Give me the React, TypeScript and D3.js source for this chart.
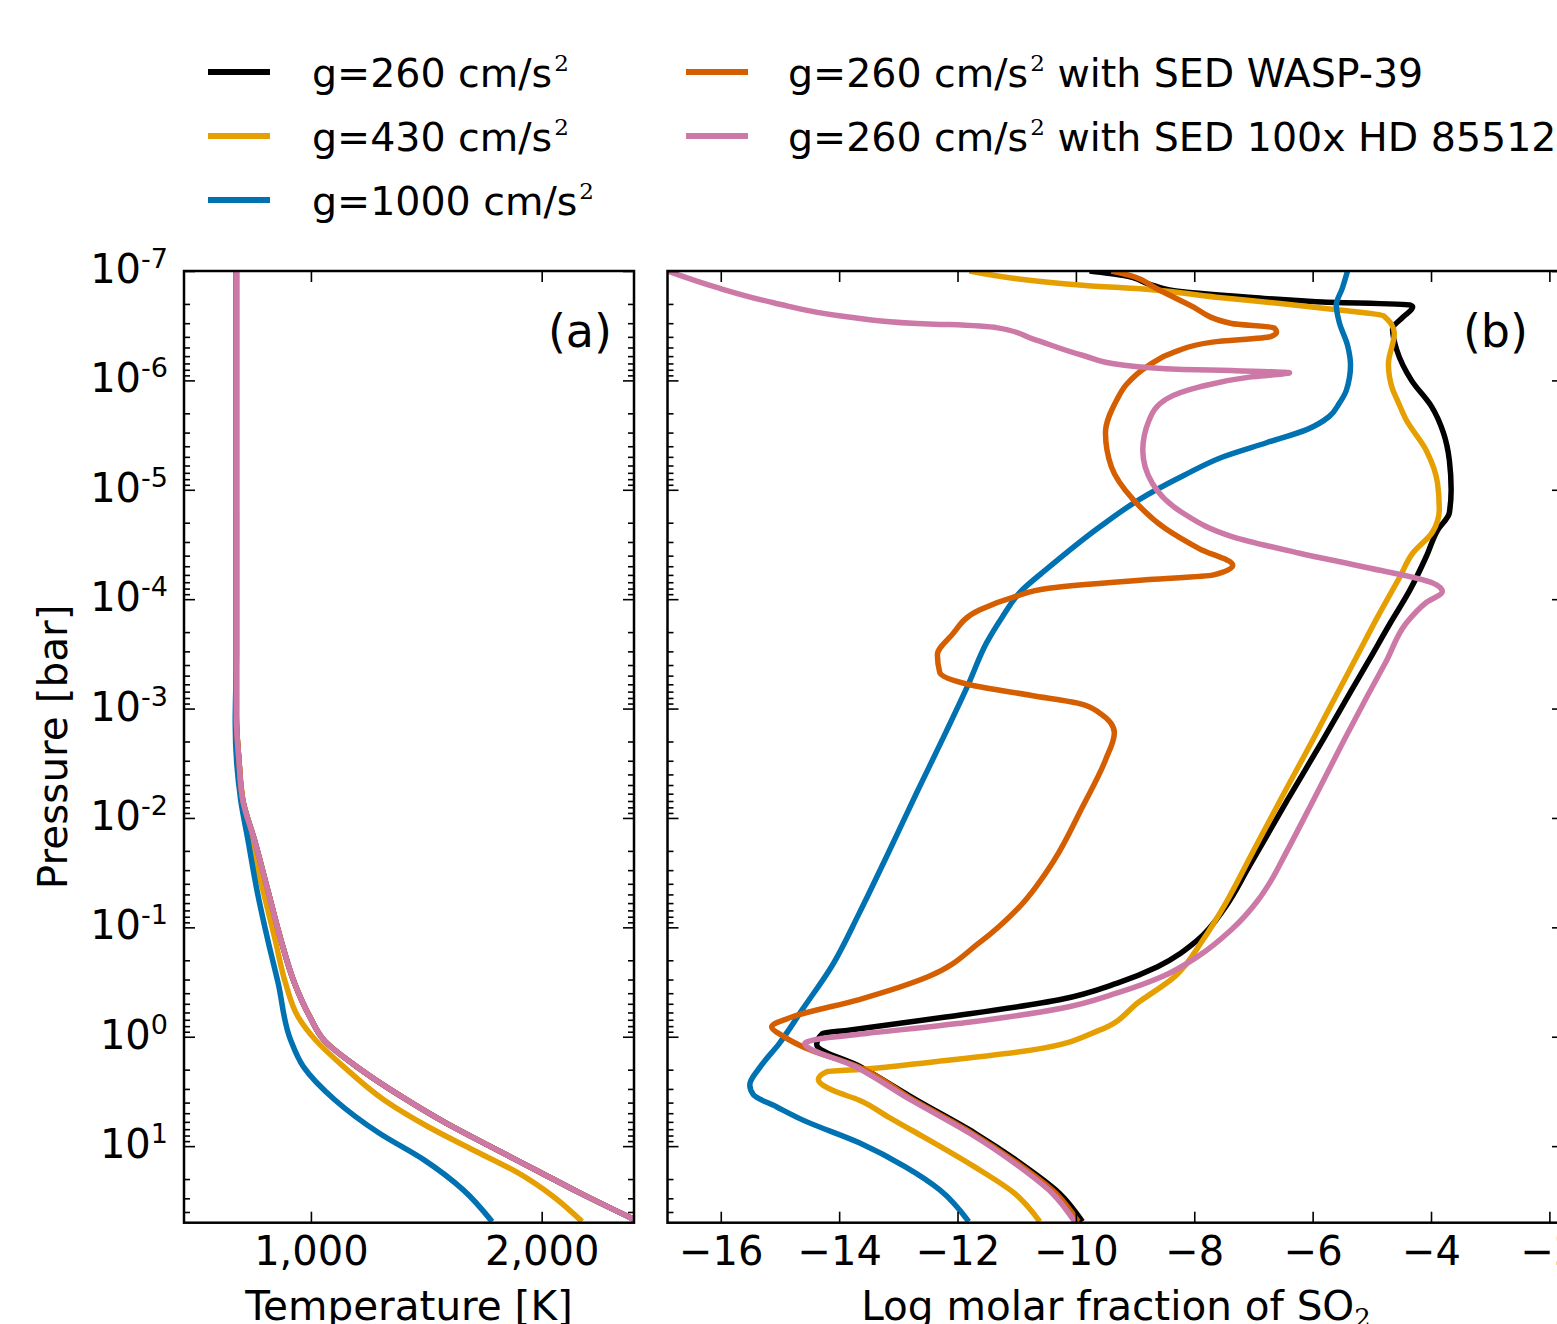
import { useEffect, useRef } from "react";
import * as d3 from "d3";

// panel (a): temperature profiles, log10(P / bar) and T [K]
const tpLogP260 = [-7.0, -2.92, -2.53, -2.16, -1.8, -1.34, -0.885, -0.49, -0.18, 0.03, 0.276, 0.55, 0.79, 1.007, 1.22, 1.43, 1.67];
const tpTemp260 = [677, 677, 688, 705, 755, 813, 870, 929, 996, 1056, 1200, 1395, 1586, 1781, 1976, 2167, 2400];
const tpLogP430 = [-7.0, -2.92, -2.53, -2.16, -1.8, -1.34, -0.885, -0.49, -0.18, 0.03, 0.276, 0.578, 0.825, 1.035, 1.245, 1.46, 1.69];
const tpTemp430 = [677, 677, 688, 705, 735, 792, 845, 890, 945, 1020, 1143, 1317, 1510, 1703, 1898, 2050, 2175];
const tpLogP1000 = [-7.0, -3.5, -2.87, -2.16, -1.8, -1.34, -0.885, -0.49, 0.03, 0.276, 0.578, 0.88, 1.126, 1.4, 1.69];
const tpTemp1000 = [677, 677, 672, 696, 727, 766, 813, 858, 912, 968, 1104, 1295, 1490, 1660, 1785];

// panel (b): log10 SO2 molar fraction against log10(P / bar)
const so2_260 = [-9.77, -9.21, -8.71, -8.2, -7.07, -5.94, -4.36, -4.31, -4.47, -4.65, -4.58, -4.33, -3.99, -3.79, -3.69, -3.66, -3.69, -3.89, -4.08, -4.36, -4.69, -5.05, -5.34, -5.83, -6.43, -7.08, -7.47, -7.95, -8.62, -9.3, -10.26, -12.2, -13.84, -14.28, -14.38, -13.66, -12.69, -11.71, -10.85, -10.28, -9.89];
const so2LogP260 = [-7.0, -6.96, -6.87, -6.81, -6.76, -6.72, -6.69, -6.67, -6.58, -6.47, -6.28, -6.0, -5.76, -5.52, -5.27, -5.0, -4.79, -4.63, -4.39, -4.08, -3.78, -3.44, -3.17, -2.71, -2.16, -1.55, -1.19, -0.88, -0.64, -0.49, -0.34, -0.18, -0.06, -0.03, 0.07, 0.27, 0.58, 0.88, 1.19, 1.43, 1.69];

const so2_430 = [-11.8, -11.0, -9.89, -8.76, -7.63, -6.51, -5.67, -4.8, -4.62, -4.72, -4.65, -4.57, -4.42, -4.08, -3.89, -3.86, -3.98, -4.31, -4.53, -4.9, -5.25, -5.64, -6.0, -6.48, -7.02, -7.47, -7.86, -8.33, -8.93, -9.6, -10.73, -12.42, -13.66, -14.21, -14.35, -14.11, -13.66, -13.15, -12.69, -11.71, -11.04, -10.61];
const so2LogP430 = [-7.0, -6.93, -6.87, -6.83, -6.76, -6.7, -6.65, -6.59, -6.43, -6.15, -5.92, -5.82, -5.64, -5.36, -5.06, -4.82, -4.61, -4.42, -4.2, -3.84, -3.48, -3.08, -2.71, -2.23, -1.68, -1.22, -0.88, -0.55, -0.32, -0.06, 0.12, 0.23, 0.3, 0.32, 0.39, 0.49, 0.58, 0.74, 0.88, 1.19, 1.43, 1.69];

const so2_1000 = [-5.41, -5.5, -5.6, -5.55, -5.41, -5.36, -5.43, -5.55, -5.72, -6.1, -6.78, -7.52, -8.18, -8.93, -9.6, -10.46, -10.95, -11.24, -11.51, -11.81, -12.2, -12.69, -13.17, -13.66, -14.13, -14.62, -15.01, -15.34, -15.51, -15.45, -15.06, -14.62, -13.66, -12.88, -12.3, -11.81];
const so2LogP1000 = [-7.0, -6.84, -6.69, -6.53, -6.32, -6.14, -5.91, -5.79, -5.67, -5.55, -5.43, -5.3, -5.13, -4.91, -4.66, -4.29, -4.06, -3.84, -3.6, -3.23, -2.78, -2.23, -1.68, -1.13, -0.64, -0.25, 0.06, 0.28, 0.44, 0.53, 0.64, 0.76, 0.97, 1.19, 1.4, 1.69];

const so2Wasp = [-9.4, -9.09, -8.64, -8.08, -7.37, -6.65, -6.61, -6.71, -7.69, -8.33, -8.76, -9.15, -9.31, -9.5, -9.4, -9.03, -8.5, -7.91, -7.35, -7.69, -8.76, -10.46, -11.04, -11.63, -12.1, -12.34, -12.3, -11.81, -10.75, -9.97, -9.6, -9.35, -9.5, -9.89, -10.36, -10.95, -11.63, -12.49, -13.66, -14.8, -15.14, -14.96, -14.58, -13.7, -12.74, -11.76, -10.9, -10.34, -9.96];
const so2LogPWasp = [-7.0, -6.96, -6.84, -6.69, -6.52, -6.48, -6.44, -6.4, -6.35, -6.26, -6.14, -5.96, -5.82, -5.52, -5.21, -4.91, -4.65, -4.46, -4.31, -4.22, -4.18, -4.1, -4.02, -3.9, -3.67, -3.49, -3.33, -3.22, -3.12, -3.05, -2.96, -2.78, -2.53, -2.1, -1.62, -1.19, -0.86, -0.55, -0.34, -0.18, -0.09, -0.01, 0.1, 0.27, 0.58, 0.88, 1.19, 1.43, 1.69];

const so2Hd = [-16.9, -16.07, -15.11, -13.84, -12.69, -12.14, -11.32, -10.73, -9.89, -9.21, -8.2, -7.37, -6.39, -7.07, -7.91, -8.47, -8.76, -8.87, -8.71, -8.2, -7.35, -6.22, -5.09, -3.98, -3.81, -4.08, -4.42, -4.75, -5.08, -5.47, -5.99, -6.49, -6.7, -6.92, -7.37, -7.95, -8.54, -9.3, -10.24, -11.85, -13.54, -14.21, -14.58, -13.74, -12.78, -11.8, -10.95, -10.4, -10.02];
const so2LogPHd = [-7.0, -6.85, -6.71, -6.58, -6.52, -6.51, -6.48, -6.38, -6.23, -6.14, -6.1, -6.09, -6.07, -6.03, -5.94, -5.83, -5.64, -5.36, -5.06, -4.79, -4.57, -4.42, -4.29, -4.15, -4.07, -3.97, -3.78, -3.44, -3.11, -2.71, -2.16, -1.64, -1.43, -1.25, -0.98, -0.73, -0.55, -0.4, -0.26, -0.13, -0.03, 0.01, 0.06, 0.27, 0.58, 0.88, 1.19, 1.43, 1.69];

const tempTicks = [1000, 2000];
const so2Ticks = [-16, -14, -12, -10, -8, -6, -4, -2];
const pressureExps = [-7, -6, -5, -4, -3, -2, -1, 0, 1];

const BLACK = "#000000";
const YELLOW = "#E69F00";
const BLUE = "#0072B2";
const VERMILION = "#D55E00";
const PINK = "#CC79A7";

const legendRows = [
  { color: BLACK, pre: "g=260 cm/s", post: "", col: 0, row: 0 },
  { color: YELLOW, pre: "g=430 cm/s", post: "", col: 0, row: 1 },
  { color: BLUE, pre: "g=1000 cm/s", post: "", col: 0, row: 2 },
  { color: VERMILION, pre: "g=260 cm/s", post: " with SED WASP-39", col: 1, row: 0 },
  { color: PINK, pre: "g=260 cm/s", post: " with SED 100x HD 85512", col: 1, row: 1 },
];

const zip = (a: number[], b: number[]) => a.map((v, i) => [v, b[i]] as [number, number]);

const App = () => {
  const ref = useRef<SVGSVGElement>(null);

  useEffect(() => {
    const svg = d3.select(ref.current);
    svg.selectAll("*").remove();
    const font = "DejaVu Sans";
    const yTop = 271, yBot = 1222.7;

    const y = d3.scaleLog().domain([1e-7, Math.pow(10, 1.7)]).range([yTop, yBot]);
    const xT = d3.scaleLinear().domain([450, 2400]).range([184, 634]);
    const xS = d3.scaleLinear().domain([-16.9, -1.77]).range([667.5, 1563]);

    const majorP = pressureExps.map((e) => Math.pow(10, e));
    const minorP: number[] = [];
    pressureExps.forEach((e) => {
      for (let k = 2; k < 10; k++) {
        const p = k * Math.pow(10, e);
        if (p < 50) minorP.push(p);
      }
    });

    const lineGroup = (x: any, id: string) => {
      const [x0, x1] = x.range();
      svg.append("clipPath").attr("id", id).append("rect")
        .attr("x", x0).attr("y", yTop).attr("width", x1 - x0).attr("height", yBot - yTop);
      return svg.append("g").attr("clip-path", `url(#${id})`);
    };

    const drawLines = (g: any, x: any, list: { data: [number, number][]; color: string }[]) => {
      const line = d3.line<[number, number]>()
        .x((d) => x(d[0]))
        .y((d) => y(Math.pow(10, d[1])))
        .curve(d3.curveMonotoneY);
      list.forEach((s) => {
        g.append("path").attr("d", line(s.data)).attr("fill", "none")
          .attr("stroke", s.color).attr("stroke-width", 5.5).attr("stroke-linejoin", "round");
      });
    };

    // panel (a)
    const gA = lineGroup(xT, "clipA");
    drawLines(gA, xT, [
      { data: zip(tpTemp260, tpLogP260), color: BLACK },
      { data: zip(tpTemp430, tpLogP430), color: YELLOW },
      { data: zip(tpTemp1000, tpLogP1000), color: BLUE },
      { data: zip(tpTemp260, tpLogP260), color: VERMILION },
      { data: zip(tpTemp260, tpLogP260), color: PINK },
    ]);

    // panel (b)
    const gB = lineGroup(xS, "clipB");
    drawLines(gB, xS, [
      { data: zip(so2_260, so2LogP260), color: BLACK },
      { data: zip(so2_430, so2LogP430), color: YELLOW },
      { data: zip(so2_1000, so2LogP1000), color: BLUE },
      { data: zip(so2Wasp, so2LogPWasp), color: VERMILION },
      { data: zip(so2Hd, so2LogPHd), color: PINK },
    ]);

    const tickStyle = (sel: any) => {
      sel.select(".domain").remove();
      sel.selectAll("line").attr("stroke", "#000").attr("stroke-width", 1.6);
      sel.selectAll("text").remove();
    };

    const frame = (x: any, xTicks: number[]) => {
      const [x0, x1] = x.range();
      const g = svg.append("g");
      g.append("g").attr("transform", `translate(${x0},0)`).call(d3.axisRight(y).tickValues(majorP).tickSize(11)).call(tickStyle);
      g.append("g").attr("transform", `translate(${x0},0)`).call(d3.axisRight(y).tickValues(minorP).tickSize(6)).call(tickStyle);
      g.append("g").attr("transform", `translate(${x1},0)`).call(d3.axisLeft(y).tickValues(majorP).tickSize(11)).call(tickStyle);
      g.append("g").attr("transform", `translate(${x1},0)`).call(d3.axisLeft(y).tickValues(minorP).tickSize(6)).call(tickStyle);
      g.append("g").attr("transform", `translate(0,${yTop})`).call(d3.axisBottom(x).tickValues(xTicks).tickSize(11)).call(tickStyle);
      g.append("g").attr("transform", `translate(0,${yBot})`).call(d3.axisTop(x).tickValues(xTicks).tickSize(11)).call(tickStyle);
      g.append("rect").attr("x", x0).attr("y", yTop).attr("width", x1 - x0).attr("height", yBot - yTop)
        .attr("fill", "none").attr("stroke", "#000").attr("stroke-width", 2.5);
    };
    frame(xT, tempTicks);
    frame(xS, so2Ticks);

    // bottom tick labels
    const labelAxis = (x: any, ticks: number[], fmt: (v: number) => string) => {
      const g = svg.append("g").attr("transform", `translate(0,${yBot})`)
        .call(d3.axisBottom(x).tickValues(ticks).tickSize(0).tickPadding(14).tickFormat(fmt as any));
      g.select(".domain").remove();
      g.attr("font-family", font).attr("font-size", 40);
      g.selectAll("text").attr("fill", "#000");
    };
    labelAxis(xT, tempTicks, d3.format(","));
    labelAxis(xS, so2Ticks, d3.format("d"));

    // pressure tick labels
    pressureExps.forEach((e) => {
      const t = svg.append("text").attr("x", 168).attr("y", y(Math.pow(10, e)) + 12)
        .attr("text-anchor", "end").attr("font-family", font).attr("font-size", 40).attr("fill", "#000");
      t.append("tspan").text("10");
      t.append("tspan").attr("font-size", 27).attr("dy", -15).text(e < 0 ? `-${-e}` : `${e}`);
    });

    // axis titles
    svg.append("text").attr("transform", `translate(67,${(yTop + yBot) / 2}) rotate(-90)`)
      .attr("text-anchor", "middle").attr("font-family", font).attr("font-size", 40.5).text("Pressure [bar]");
    svg.append("text").attr("x", 409).attr("y", 1320).attr("text-anchor", "middle")
      .attr("font-family", font).attr("font-size", 40.5).text("Temperature [K]");
    const so2Title = svg.append("text").attr("x", 1116).attr("y", 1320).attr("text-anchor", "middle")
      .attr("font-family", font).attr("font-size", 40.5);
    so2Title.append("tspan").text("Log molar fraction of SO");
    so2Title.append("tspan").attr("font-family", "DejaVu Serif").attr("font-size", 26).attr("dy", 7).text("2");

    // panel letters
    svg.append("text").attr("x", 612).attr("y", 347).attr("text-anchor", "end")
      .attr("font-family", font).attr("font-size", 46).text("(a)");
    svg.append("text").attr("x", 1528).attr("y", 347).attr("text-anchor", "end")
      .attr("font-family", font).attr("font-size", 46).text("(b)");

    // legend
    legendRows.forEach((r) => {
      const lx = r.col === 0 ? 208 : 686;
      const tx = r.col === 0 ? 312 : 788;
      const ly = 72 + r.row * 64;
      svg.append("line").attr("x1", lx).attr("x2", lx + 62).attr("y1", ly).attr("y2", ly)
        .attr("stroke", r.color).attr("stroke-width", 6);
      const t = svg.append("text").attr("x", tx).attr("y", ly + 15)
        .attr("font-family", font).attr("font-size", 39.5).style("white-space", "pre");
      t.append("tspan").text(r.pre);
      t.append("tspan").attr("font-family", "DejaVu Serif").attr("font-size", 23).attr("dx", 2).attr("dy", -16).text("2");
      if (r.post) t.append("tspan").attr("font-size", 39.5).attr("dy", 16).text(r.post);
    });
  }, []);

  return (
    <svg
      ref={ref}
      width={1557}
      height={1324}
      style={{ position: "absolute", left: 0, top: 0, background: "#fff" }}
    />
  );
};

export default App;
